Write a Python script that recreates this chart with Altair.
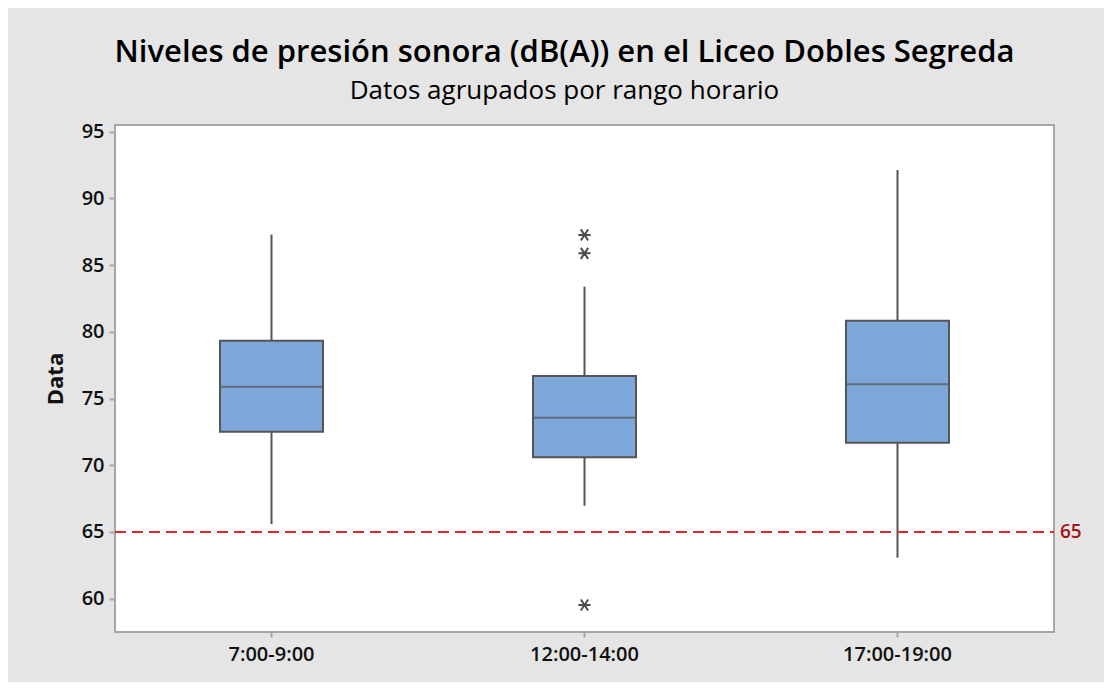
import altair as alt
import pandas as pd

categories = ["7:00-9:00", "12:00-14:00", "17:00-19:00"]
lower_whisker = [65.6, 66.96, 63.07]
q1 = [72.51, 70.59, 71.69]
median = [75.88, 73.56, 76.06]
q3 = [79.33, 76.69, 80.83]
upper_whisker = [87.3, 83.38, 92.13]

outlier_cat = ["12:00-14:00", "12:00-14:00", "12:00-14:00"]
outlier_val = [87.26, 85.88, 59.52]

ref_value = [65]
y_ticks = [60, 65, 70, 75, 80, 85, 90, 95]

FONT = "Open Sans"

box_df = pd.DataFrame({
    "cat": categories, "lw": lower_whisker, "q1": q1, "med": median,
    "q3": q3, "uw": upper_whisker,
})
out_df = pd.DataFrame({"cat": outlier_cat, "val": outlier_val})
ref_df = pd.DataFrame({"v": ref_value, "label": [str(v) for v in ref_value]})

x_scale = alt.Scale(type="band", paddingInner=0, paddingOuter=0)
y_scale = alt.Scale(domain=[57.5, 95.5], nice=False, zero=False)

x_enc = alt.X("cat:N", sort=categories, title=None, scale=x_scale,
              axis=alt.Axis(labelAngle=0))
y_enc_axis = alt.Axis(values=y_ticks, title="Data")

base = alt.Chart(box_df)

whisk = base.mark_rule(color="#555555", strokeWidth=2).encode(
    x=x_enc,
    y=alt.Y("lw:Q", scale=y_scale, axis=y_enc_axis),
    y2="uw:Q",
)
box = base.mark_bar(size=103, color="#7da7d8", stroke="#555555", strokeWidth=2).encode(
    x=alt.X("cat:N", sort=categories, title=None),
    y=alt.Y("q1:Q", title="Data"),
    y2="q3:Q",
)
med = base.mark_tick(size=103, thickness=2, color="#555555").encode(
    x=alt.X("cat:N", sort=categories, title=None),
    y=alt.Y("med:Q", title="Data"),
)
outl = alt.Chart(out_df).mark_point(
    shape="M-1,0L1,0M-0.6,-0.9L0.6,0.9M-0.6,0.9L0.6,-0.9",
    size=150, stroke="#4d4d4d", strokeWidth=2, filled=False, opacity=1,
).encode(
    x=alt.X("cat:N", sort=categories, title=None),
    y=alt.Y("val:Q", title="Data"),
)
ref = alt.Chart(ref_df).mark_rule(color="#e3262a", strokeWidth=2, strokeDash=[11, 6]).encode(
    y=alt.Y("v:Q", title="Data"),
    x=alt.value(0), x2=alt.value(939),
)
ref_txt = alt.Chart(ref_df).mark_text(
    align="left", baseline="middle", font=FONT, fontSize=19, fontWeight=600,
    color="#a3161d", dx=6,
).encode(
    y=alt.Y("v:Q", title="Data"),
    x=alt.value(939),
    text="label:N",
)

chart = alt.layer(whisk, box, med, outl, ref, ref_txt).properties(
    width=939, height=507,
    autosize=alt.AutoSizeParams(type="none"),
    padding={"left": 107, "top": 117, "right": 50, "bottom": 50},
    background="#e5e5e5",
    title=alt.TitleParams(
        text="Niveles de presión sonora (dB(A)) en el Liceo Dobles Segreda",
        subtitle="Datos agrupados por rango horario",
        font=FONT, fontSize=31, fontWeight=600, color="#000",
        subtitleFont=FONT, subtitleFontSize=26, subtitleColor="#000",
        subtitleFontWeight="normal", subtitlePadding=9,
        anchor="middle", offset=17, dx=-20,
    ),
).configure_view(
    fill="white", stroke="#a6a6a6", strokeWidth=2,
).configure_axis(
    labelFont=FONT, labelFontSize=20, labelColor="#111", labelFontWeight=600,
    titleFont=FONT, titleFontSize=22, titleFontWeight="bold", titleColor="#111",
    tickColor="#a6a6a6", tickWidth=2, domain=False, grid=False,
).configure_axisX(
    tickSize=5, labelPadding=7,
).configure_axisY(
    tickSize=6, labelPadding=5, titlePadding=14,
)

chart.save("out.html", embed_options={"renderer": "svg", "actions": False})
